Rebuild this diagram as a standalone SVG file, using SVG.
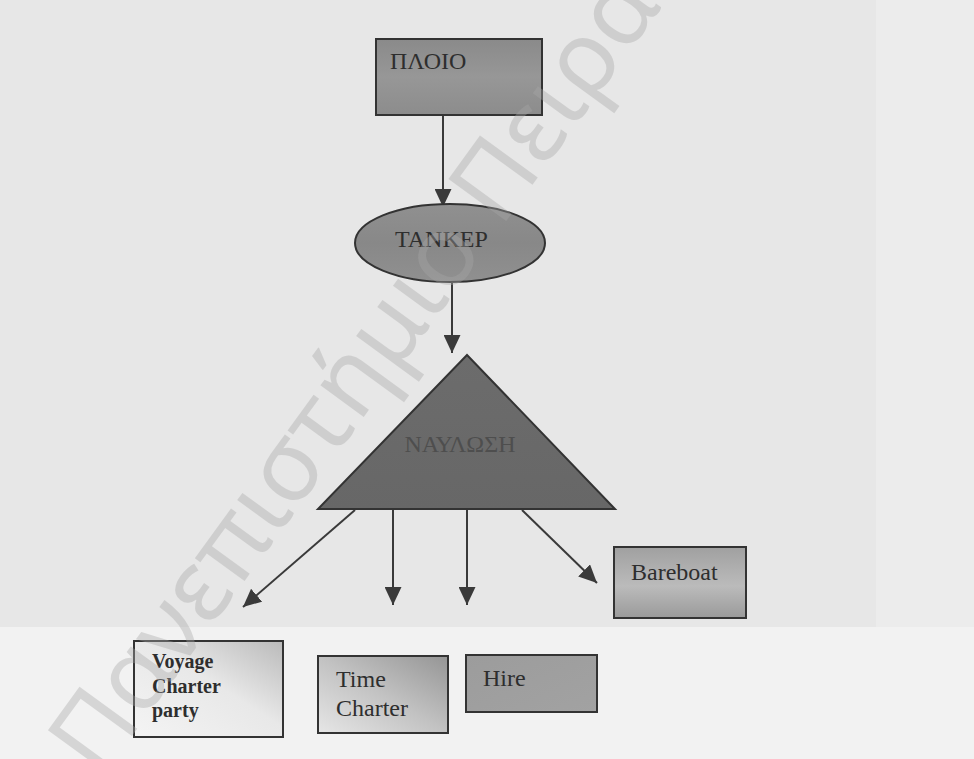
<svg xmlns="http://www.w3.org/2000/svg" width="974" height="759" viewBox="0 0 974 759">
<style>
.lbl{font-family:"Liberation Serif","Times New Roman",serif;font-size:24px;fill:#2e2e2e}
.bold{font-weight:bold;font-size:20px}
.edge{stroke:#3a3a3a;stroke-width:2;fill:none;marker-end:url(#ah)}
.shape{stroke:#333;stroke-width:2}
.wm{font-family:"Noto Sans","Open Sans",sans-serif;font-size:100px;fill:#a8a8a8;opacity:0.38}
</style>
<defs>
<marker id="ah" markerUnits="userSpaceOnUse" markerWidth="19" markerHeight="17" refX="18" refY="8.5" orient="auto">
<path d="M0,0 L18,8.5 L0,17 z" fill="#3a3a3a"/>
</marker>
<linearGradient id="gPloio" x1="0" y1="0" x2="0" y2="1">
<stop offset="0" stop-color="#8a8a8a"/><stop offset="0.5" stop-color="#979797"/><stop offset="1" stop-color="#8c8c8c"/>
</linearGradient>
<linearGradient id="gTank" x1="0" y1="0" x2="0" y2="1">
<stop offset="0" stop-color="#909090"/><stop offset="0.5" stop-color="#888"/><stop offset="1" stop-color="#909090"/>
</linearGradient>
<linearGradient id="gTri" x1="0" y1="0" x2="0" y2="1">
<stop offset="0" stop-color="#6c6c6c"/><stop offset="1" stop-color="#676767"/>
</linearGradient>
<linearGradient id="gBare" x1="0" y1="0" x2="0" y2="1">
<stop offset="0" stop-color="#a0a0a0"/><stop offset="0.55" stop-color="#bbb"/><stop offset="1" stop-color="#9a9a9a"/>
</linearGradient>
<linearGradient id="gVoy" x1="0" y1="1" x2="1" y2="0">
<stop offset="0" stop-color="#f4f4f4"/><stop offset="0.55" stop-color="#e8e8e8"/><stop offset="1" stop-color="#bababa"/>
</linearGradient>
<linearGradient id="gTime" x1="0" y1="1" x2="1" y2="0">
<stop offset="0" stop-color="#e6e6e6"/><stop offset="0.5" stop-color="#c2c2c2"/><stop offset="1" stop-color="#959595"/>
</linearGradient>
<linearGradient id="gHire" x1="0" y1="0" x2="1" y2="1">
<stop offset="0" stop-color="#9c9c9c"/><stop offset="1" stop-color="#a2a2a2"/>
</linearGradient>
</defs>
<rect x="0" y="0" width="974" height="759" fill="#e7e7e7"/>
<rect x="0" y="627" width="974" height="132" fill="#f2f2f2"/>
<rect x="876" y="0" width="98" height="627" fill="#ececec"/>

<g id="connectors">
<line class="edge" x1="443" y1="115" x2="443" y2="207"/>
<line class="edge" x1="452" y1="283" x2="452" y2="353"/>
<line class="edge" x1="355" y1="510" x2="243" y2="607"/>
<line class="edge" x1="393" y1="510" x2="393" y2="605"/>
<line class="edge" x1="467" y1="510" x2="467" y2="605"/>
<line class="edge" x1="522" y1="510" x2="597" y2="583"/>
</g>

<g id="ploio">
<rect class="shape" x="376" y="39" width="166" height="76" fill="url(#gPloio)"/>
<text class="lbl" x="390" y="69">ΠΛΟΙΟ</text>
</g>

<g id="tanker">
<ellipse class="shape" cx="450" cy="243" rx="95" ry="39" fill="url(#gTank)"/>
<text class="lbl" x="395" y="247">TANKEP</text>
</g>

<g id="naulosi">
<polygon class="shape" points="467,355 318,509 615,509" fill="url(#gTri)"/>
<text class="lbl" x="460" y="452" text-anchor="middle" style="fill:#4e4e4e">ΝΑΥΛΩΣΗ</text>
</g>

<g id="bareboat">
<rect class="shape" x="614" y="547" width="132" height="71" fill="url(#gBare)"/>
<text class="lbl" x="631" y="580">Bareboat</text>
</g>

<g id="voyage">
<rect class="shape" x="134" y="641" width="149" height="96" fill="url(#gVoy)"/>
<text class="lbl bold" x="152" y="668">Voyage</text>
<text class="lbl bold" x="152" y="693">Charter</text>
<text class="lbl bold" x="152" y="717">party</text>
</g>

<g id="time">
<rect class="shape" x="318" y="656" width="130" height="77" fill="url(#gTime)"/>
<text class="lbl" x="336" y="687">Time</text>
<text class="lbl" x="336" y="716">Charter</text>
</g>

<g id="hire">
<rect class="shape" x="466" y="655" width="131" height="57" fill="url(#gHire)"/>
<text class="lbl" x="483" y="686">Hire</text>
</g>

<text class="wm" transform="translate(100,780) rotate(-54)">Πανεπιστήμιο Πειραιώς</text>
</svg>
